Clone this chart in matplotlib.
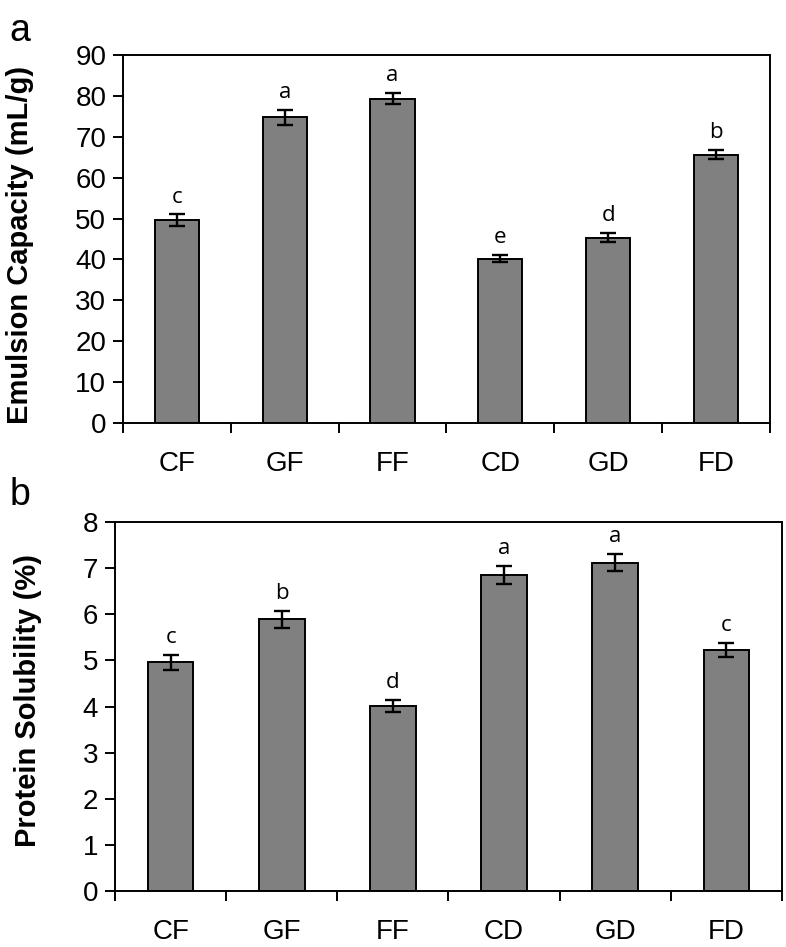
import matplotlib.pyplot as plt
import numpy as np

samples = ['CF', 'GF', 'FF', 'CD', 'GD', 'FD']

emulsion = [49.6, 74.8, 79.3, 40.2, 45.3, 65.6]
emulsion_err = [1.4, 1.8, 1.4, 0.9, 1.1, 1.1]
emulsion_letters = ['c', 'a', 'a', 'e', 'd', 'b']

solubility = [4.96, 5.89, 4.01, 6.85, 7.12, 5.22]
solubility_err = [0.16, 0.19, 0.13, 0.19, 0.19, 0.15]
solubility_letters = ['c', 'b', 'd', 'a', 'a', 'c']

plt.rcParams['font.family'] = ['Liberation Sans', 'DejaVu Sans']

fig = plt.figure(figsize=(7.86, 9.47), dpi=100)
ax_a = fig.add_axes([0.1565, 0.5533, 0.823, 0.3886])
ax_b = fig.add_axes([0.1463, 0.0591, 0.8486, 0.3897])


def draw_panel(ax, values, errors, letters, ymax, step, ylabel, label_xy):
    x = np.arange(len(samples))
    ax.bar(x, values, width=0.41, color='#808080', edgecolor='black', linewidth=1.4, zorder=2)
    ax.errorbar(x, values, yerr=errors, fmt='none', ecolor='black',
                elinewidth=1.7, capsize=5.5, capthick=1.7, zorder=3)
    for xi, v, e, lab in zip(x, values, errors, letters):
        ax.annotate(lab, (xi, v + e), xytext=(0, 5), textcoords='offset points',
                    ha='center', va='bottom', fontsize=16, family=['Open Sans', 'DejaVu Sans'])

    ax.set_xlim(-0.5, len(samples) - 0.5)
    ax.set_ylim(0, ymax)
    ax.set_yticks(np.arange(0, ymax + step / 2, step))
    ax.set_xticks(x)
    ax.set_xticklabels(samples)
    ax.set_xticks(np.arange(-0.5, len(samples), 1.0), minor=True)
    ax.tick_params(axis='x', which='major', length=0, pad=20, labelsize=20)
    ax.tick_params(axis='x', which='minor', length=7, width=1.4, direction='out')
    ax.tick_params(axis='y', length=7, width=1.4, direction='out', labelsize=20, pad=5)
    for s in ax.spines.values():
        s.set_linewidth(1.4)
    ax.set_ylabel(ylabel, fontsize=21, fontweight='bold')
    # label position in figure fraction (right edge of rotated text, centre)
    ax.yaxis.set_label_coords(*label_xy, transform=fig.transFigure)


draw_panel(ax_a, emulsion, emulsion_err, emulsion_letters, 90, 10,
           'Emulsion Capacity (mL/g)', (0.043, 0.741))
draw_panel(ax_b, solubility, solubility_err, solubility_letters, 8, 1,
           'Protein Solubility (%)', (0.053, 0.260))

fig.text(0.012, 0.967, 'a', fontsize=27, va='center', ha='left')
fig.text(0.012, 0.477, 'b', fontsize=27, va='center', ha='left')

fig.savefig('out.png', dpi=100)
